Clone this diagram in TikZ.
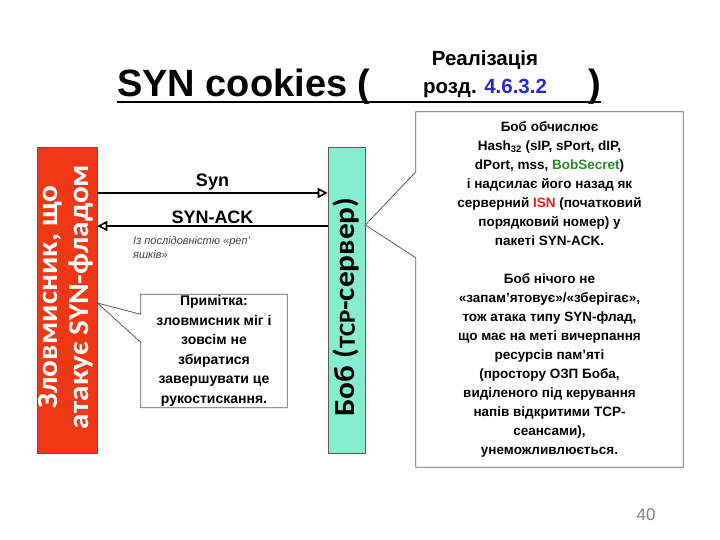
\documentclass[tikz,border=0pt]{standalone}
\usepackage{fontspec}
\setmainfont{Liberation Sans}
\newfontfamily\carlito[FakeStretch=1.08]{Carlito}
\newfontfamily\carlitobob[FakeStretch=1.08]{Carlito}
\usetikzlibrary{arrows.meta,calc}

\definecolor{floodred}{RGB}{240,56,22}
\definecolor{servergreen}{RGB}{134,238,204}
\definecolor{refblue}{RGB}{40,40,210}
\definecolor{secretgreen}{RGB}{40,140,40}
\definecolor{isnred}{RGB}{232,30,30}
\definecolor{framegray}{RGB}{90,90,90}

\tikzset{
    host node/.style={rectangle,draw=framegray,line width=0.6pt,minimum height=306,inner sep=0},
    attacker node/.style={host node,fill=floodred,minimum width=60},
    server node/.style={host node,fill=servergreen,minimum width=37},
    msg/.style={line width=1.6pt,-{Triangle[open,length=10pt,width=10pt,line width=1.6pt]}},
    msg label/.style={font=\bfseries\fontsize{18}{20}\selectfont,inner sep=2},
    note text/.style={align=center,inner sep=0},
    callout line/.style={draw=framegray,line width=0.8pt}
    }

\begin{document}
\begin{tikzpicture}[x=1pt,y=-1pt]
    \useasboundingbox (0,0) rectangle (720,540);

    % title
    \node(title)[anchor=base west,inner sep=0,font=\bfseries\fontsize{38}{40}\selectfont] at (117,97) {SYN cookies (};
    \node(closep)[anchor=base east,inner sep=0,font=\bfseries\fontsize{38}{40}\selectfont] at (601,97) {)};
    \node(ref)[align=center,font=\bfseries\fontsize{20.5}{28}\selectfont] at (485,74) {Реалізація\\розд. \textcolor{refblue}{4.6.3.2}};
    \draw[line width=2.2pt] ([yshift=-5pt]title.base west) -- ([yshift=-5pt]closep.base east);

    % hosts
    \node(attacker)[attacker node] at (67,300) {};
    \node(attackername)[rotate=90,align=center,text=white,font=\carlito\bfseries\fontsize{29}{31}\selectfont] at ([xshift=-1pt,yshift=3pt]attacker.center) {Зловмисник, що\\атакує SYN-фладом};
    \node(bob)[server node] at (346.5,300) {};
    \node(bobname)[rotate=90,font=\carlitobob\bfseries\fontsize{29}{31}\selectfont] at ([yshift=-7pt]bob.center) {Боб ({\fontsize{23}{23}\selectfont TCP}-сервер)};

    % handshake
    \draw[msg] ([yshift=107pt]attacker.east) -- ([yshift=107pt]bob.west)
        node[midway,above,msg label]{Syn};
    \draw[msg] ([yshift=74pt]bob.west) -- ([yshift=74pt]attacker.east)
        node[midway,above,msg label]{SYN-ACK};
    \node(replynote)[anchor=north west,align=left,inner sep=0,text=darkgray,font=\itshape\fontsize{11}{14}\selectfont] at (133,236) {Із послідовністю «реп’\\яшків»};

    % note on the attacker
    \node(hint)[note text,minimum width=146,minimum height=113,font=\bfseries\fontsize{14}{19.5}\selectfont] at (214,351)
        {Примітка:\\зловмисник міг і\\зовсім не\\збиратися\\завершувати це\\рукостискання.};
    \coordinate (hinttip) at ([yshift=-3pt]attacker.east);
    \draw[callout line] (hint.north west) -- ++(0,20) -- (hinttip) -- ($(hint.north west)+(0,48)$)
        -- (hint.south west) -- (hint.south east) -- (hint.north east) -- cycle;

    % note on Bob
    \node(bobnote)[note text,minimum width=267,minimum height=355,font=\bfseries\fontsize{13.5}{19}\selectfont] at (549.5,289.5)
        {Боб обчислює\\
        Hash\textsubscript{32} (sIP, sPort, dIP,\\
        dPort, mss, \textcolor{secretgreen}{BobSecret})\\
        і надсилає його назад як\\
        серверний \textcolor{isnred}{ISN} (початковий\\
        порядковий номер) у\\
        пакеті SYN-ACK.\\
        ~\\
        Боб нічого не\\
        «запам’ятовує»/«зберігає»,\\
        тож атака типу SYN-флад,\\
        що має на меті вичерпання\\
        ресурсів пам’яті\\
        (простору ОЗП Боба,\\
        виділеного під керування\\
        напів відкритими TCP-\\
        сеансами),\\
        унеможливлюється.};
    \coordinate (bobtip) at ([yshift=75pt]bob.east);
    \draw[callout line] (bobnote.north west) -- ++(0,60) -- (bobtip) -- ($(bobnote.north west)+(0,146)$)
        -- (bobnote.south west) -- (bobnote.south east) -- (bobnote.north east) -- cycle;

    \node(pagenum)[text=gray,font=\fontsize{17}{17}\selectfont] at (646,515) {40};
\end{tikzpicture}
\end{document}
